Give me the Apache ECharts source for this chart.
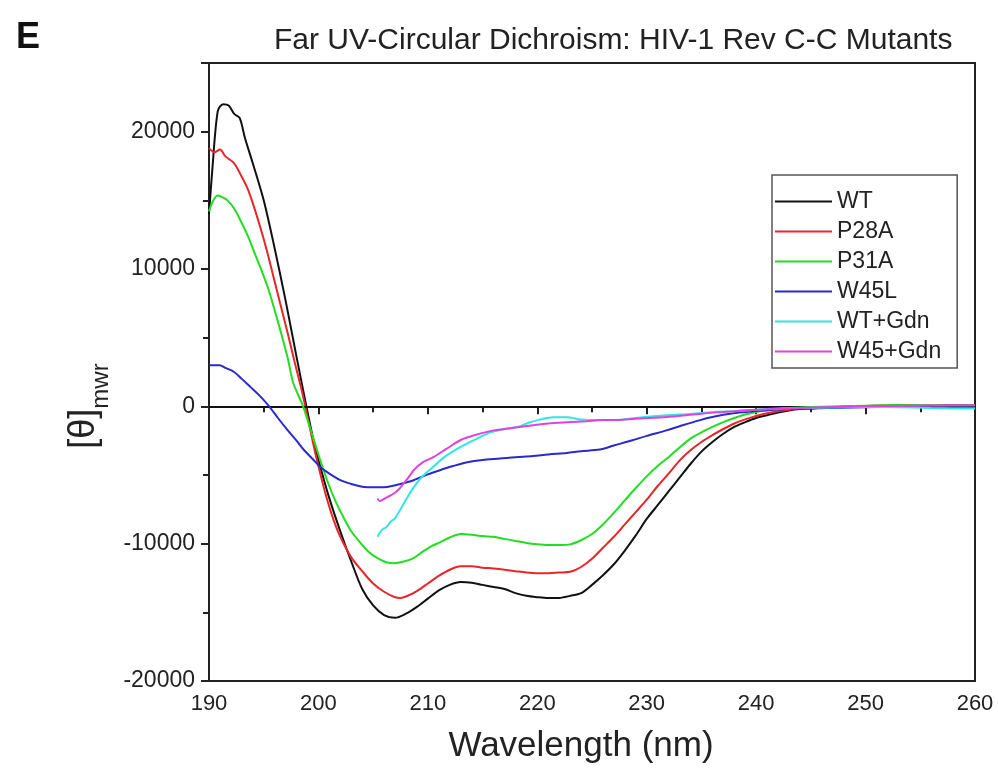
<!DOCTYPE html>
<html>
<head>
<meta charset="utf-8">
<script src="https://cdn.jsdelivr.net/npm/echarts@6/dist/echarts.min.js"></script>
<style>
html,body{margin:0;padding:0;background:#fff;}
#chart{width:998px;height:782px;}
</style>
</head>
<body>
<div id="chart"></div>
<script>
// ---- Data ----
var seriesNames = ['WT', 'P28A', 'P31A', 'W45L', 'WT+Gdn', 'W45+Gdn'];
var xTicks = [190, 200, 210, 220, 230, 240, 250, 260];
var yTicks = [-20000, -10000, 0, 10000, 20000];

var wtX = [190,190.3,190.8,191.3,191.8,192.3,192.8,193.3,194,195,196,197,198,198.9,199.5,200,201,202,203,204,205,206,207,208,209,210,211,212,213,214,215,216,217,218,219,220,221,222,223,224,225,226,227,228,229,230,231,232,233,234,235,236,237,238,239,240,241,242,243,244,245,246,248,250,252,254,256,258,260];
var wtY = [14000,17200,21500,22000,21900,21300,21000,19500,17700,15000,11500,7700,3600,0,-2300,-3900,-6700,-9100,-11300,-13300,-14500,-15200,-15400,-15100,-14600,-14000,-13400,-13000,-12800,-12850,-13000,-13150,-13300,-13600,-13800,-13900,-13960,-13950,-13800,-13600,-13000,-12300,-11500,-10500,-9400,-8200,-7200,-6200,-5200,-4200,-3300,-2600,-2000,-1500,-1150,-850,-650,-450,-300,-200,-150,-100,-30,20,50,60,40,70,80];

var p28aX = [190,190.5,191,191.5,192.3,193,193.5,194,194.7,195.3,195.9,196.5,197.2,197.8,198.4,198.8,199.6,200.2,200.8,201.4,202,203,204,205,206,207,207.5,208,209,210,211,212,213,214,215,216,217,218,219,220,221,222,223,224,225,226,227,228,229,230,231,232,233,234,235,236,237,238,239,240,241,242,243,244,246,248,250,252,254,256,258,260];
var p28aY = [18800,18500,18700,18200,17700,16700,15900,14800,13000,11300,9400,7500,5300,3300,1400,0,-3000,-5000,-6800,-8300,-9500,-11000,-12000,-12900,-13500,-13900,-13950,-13850,-13450,-12900,-12350,-11900,-11650,-11650,-11750,-11800,-11900,-12000,-12100,-12150,-12150,-12100,-12050,-11700,-11100,-10300,-9500,-8600,-7700,-6800,-5800,-4900,-3950,-3200,-2600,-2100,-1650,-1250,-950,-700,-500,-350,-250,-150,-80,-20,30,40,50,60,70,80];

var p31aX = [190,190.4,190.8,191.3,191.7,192.3,192.9,193.5,194.1,194.7,195.4,196,196.6,197.2,197.7,198.6,199.6,200.2,200.8,201.5,202.3,203,203.9,204.6,205.4,206.2,206.9,207.8,208.7,209.5,210.3,211.1,212,213,214,215,216,217,218,219,220,221,222,223,224,225,226,227,228,229,230,231,232,233,234,235,236,237,238,239,240,241,242,243,244,246,248,250,252,254,256,258,260];
var p31aY = [14200,15000,15350,15200,15000,14400,13500,12500,11300,10100,8600,7000,5300,3500,1700,0,-2500,-4000,-5400,-6800,-8100,-9100,-10000,-10600,-11050,-11350,-11420,-11300,-11050,-10600,-10200,-9900,-9550,-9300,-9350,-9450,-9500,-9650,-9800,-9950,-10050,-10100,-10100,-10050,-9750,-9300,-8600,-7750,-6850,-5950,-5100,-4350,-3700,-3000,-2350,-1900,-1500,-1150,-850,-600,-420,-300,-200,-130,-80,-30,0,40,70,80,70,60,70];

var w45lX = [190,191,191.5,192.3,193,193.8,194.6,195.5,196.3,197.2,198,198.7,199.5,200.2,201,202,203,204,204.5,205.5,206.3,207.5,208.7,210,211.1,212.3,213.6,215,216.6,218,219.6,221,222.7,224,225.7,227,228.7,230,231.8,233,234.8,236,237.9,239.5,241,243,245,248,250,252,254,256,258,260];
var w45lY = [3000,3000,2800,2500,2000,1400,800,0,-850,-1750,-2500,-3200,-3850,-4440,-4900,-5380,-5650,-5850,-5890,-5900,-5870,-5650,-5380,-4950,-4650,-4350,-4070,-3900,-3800,-3700,-3620,-3500,-3400,-3270,-3150,-2850,-2470,-2150,-1750,-1450,-1020,-780,-510,-380,-290,-200,-150,-100,-60,-50,-40,-60,-80,-100];

var wtGdnX = [205.4,205.8,206.2,206.6,207,207.5,208,208.7,209.5,210.5,211.5,213,214.5,215.7,217,218.2,219.2,220.3,221.5,222.7,224,225.7,227.3,229,231.8,234,236.4,238,241,244,247,250,253,256,258,260];
var wtGdnY = [-9500,-9000,-8800,-8400,-8150,-7500,-6800,-5900,-5100,-4400,-3700,-2950,-2350,-1900,-1650,-1500,-1200,-950,-800,-800,-950,-1000,-1000,-850,-650,-550,-400,-350,-200,-120,-80,-50,-70,-120,-150,-160];

var w45GdnX = [205.4,205.6,206.2,206.9,207.4,207.8,208.3,208.7,209.5,210.5,211.7,213,214.5,216,217.5,219.6,221,222.7,224.5,226,227.3,229,231.8,234,236.4,238.5,241,244,247,250,253,256,258,260];
var w45GdnY = [-6700,-6900,-6650,-6350,-6000,-5600,-5100,-4650,-4100,-3700,-3100,-2450,-2050,-1750,-1600,-1380,-1250,-1160,-1080,-1000,-1000,-900,-780,-620,-440,-330,-220,-120,-50,0,30,60,70,80];

// ---- Build ----
var colors = ['#111111', '#e8262a', '#22dd22', '#2a2acc', '#2ee6e6', '#dd44dd'];
var xs = [wtX, p28aX, p31aX, w45lX, wtGdnX, w45GdnX];
var ys = [wtY, p28aY, p31aY, w45lY, wtGdnY, w45GdnY];
function pairs(a, b) { return a.map(function (v, i) { return [v, b[i]]; }); }

var FONT = '"Liberation Sans", Arial, sans-serif';
var series = seriesNames.map(function (n, i) {
  var s = {
    name: n, type: 'line', data: pairs(xs[i], ys[i]),
    symbol: 'none', smooth: 0.3,
    lineStyle: { color: colors[i], width: 2 },
    itemStyle: { color: colors[i] },
    z: 3 + i
  };
  if (i === 0) {
    s.markLine = {
      silent: true, symbol: ['none', 'none'], animation: false,
      label: { show: false },
      lineStyle: { color: '#111', width: 2, type: 'solid' },
      data: [{ yAxis: 0 }]
    };
  }
  return s;
});

var chart = echarts.init(document.getElementById('chart'));
chart.setOption({
  animation: false,
  backgroundColor: '#fff',
  title: [
    { text: 'E', left: 11, top: 15, textStyle: { fontFamily: FONT, fontSize: 36, fontWeight: 'bold', color: '#111' } },
    { text: 'Far UV-Circular Dichroism: HIV-1 Rev C-C Mutants', left: 269, top: 21,
      textStyle: { fontFamily: FONT, fontSize: 30, fontWeight: 'normal', color: '#222' } }
  ],
  graphic: [{
    type: 'text', x: 82, y: 406, rotation: Math.PI / 2,
    style: {
      text: '{a|[θ]}{b|mwr}', align: 'center', verticalAlign: 'middle',
      rich: {
        a: { fontFamily: FONT, fontSize: 36, fill: '#222', verticalAlign: 'bottom', lineHeight: 40 },
        b: { fontFamily: FONT, fontSize: 24, fill: '#222', verticalAlign: 'bottom', lineHeight: 40, padding: [0, 0, -11, 0] }
      }
    }
  }],
  legend: {
    orient: 'vertical', left: 772, top: 175,
    data: seriesNames.map(function (n) { return { name: n, icon: 'rect' }; }),
    itemWidth: 57, itemHeight: 2, itemGap: 7,
    padding: [15, 16, 5, 3],
    borderColor: '#555', borderWidth: 1.5,
    textStyle: { fontFamily: FONT, fontSize: 23, color: '#222', lineHeight: 23 }
  },
  grid: { left: 209, right: 23, top: 63, bottom: 101, show: true, borderColor: '#222', borderWidth: 2, backgroundColor: 'transparent' },
  xAxis: {
    type: 'value', min: 190, max: 260, interval: 10,
    name: 'Wavelength (nm)', nameLocation: 'middle', nameGap: 48,
    nameTextStyle: { fontFamily: FONT, fontSize: 35, color: '#222', padding: [0, 22, 0, 0] },
    axisLine: { show: true, lineStyle: { color: '#222', width: 2 } },
    axisTick: { show: true, inside: false, length: 8, lineStyle: { color: '#222', width: 2 } },
    minorTick: { show: true, splitNumber: 2, length: 6, lineStyle: { color: '#222', width: 2 } },
    axisLabel: { fontFamily: FONT, fontSize: 22, color: '#222', margin: 12,
      formatter: function (v) { return xTicks.indexOf(v) >= 0 ? String(v) : ''; } },
    splitLine: { show: false }
  },
  yAxis: {
    type: 'value', min: -20000, max: 25000, interval: 10000,
    axisLine: { show: true, lineStyle: { color: '#222', width: 2 } },
    axisTick: { show: true, inside: false, length: 8, lineStyle: { color: '#222', width: 2 } },
    minorTick: { show: true, splitNumber: 2, length: 6, lineStyle: { color: '#222', width: 2 } },
    axisLabel: { fontFamily: FONT, fontSize: 23, color: '#222', margin: 14, showMaxLabel: false,
      formatter: function (v) { return yTicks.indexOf(v) >= 0 ? String(v) : ''; } },
    splitLine: { show: false }
  },
  series: series
});
</script>
</body>
</html>
